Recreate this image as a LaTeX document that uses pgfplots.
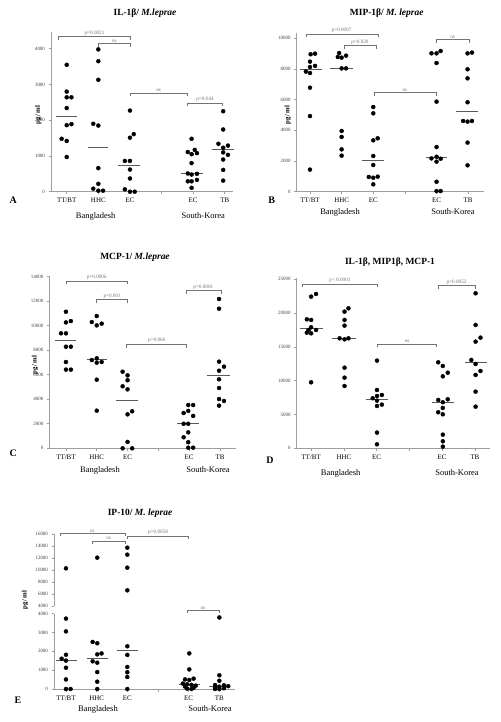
\documentclass[border=0pt]{standalone}
\usepackage{pgfplots}
\pgfplotsset{compat=1.18}
\usepackage{fontspec}
\setmainfont{Liberation Serif}
\definecolor{axgray}{gray}{0.62}
\definecolor{brgray}{gray}{0.45}
\definecolor{medgray}{gray}{0.35}
\tikzset{plab/.style={font=\fontsize{5.2}{6}\selectfont, text=brgray, above, inner sep=0.8bp}}
\pgfplotsset{
  panel/.style={scale only axis, clip=false,
    axis x line=bottom, axis y line=left,
    axis line style={axgray, line width=0.9pt, -},
    xtick={1,2,3,4,5,6}, xticklabels={TT/BT,HHC,EC,,EC,TB},
    x tick label style={font=\fontsize{7}{8}\selectfont, yshift=-0.5bp},
    y tick label style={font=\fontsize{5}{6}\selectfont, text=black!75},
    major tick length=2.5bp,
    xtick style={axgray, line width=0.6pt},
    ytick style={axgray, line width=0.6pt},
    tick align=outside,
    scaled y ticks=false,
    /pgf/number format/1000 sep={},
    /pgf/number format/assume math mode=true,
  },
  dots/.style={only marks, mark=*, mark size=2bp, black},
  med/.style={medgray, line width=0.7pt},
  br/.style={brgray, line width=0.6pt},
}
\begin{document}
\begin{tikzpicture}
\useasboundingbox (0,0) rectangle (501bp,-722bp);
% ---------------- Panel A
\begin{axis}[panel, at={(51bp,-191.7bp)}, anchor=south west, width=182bp, height=159.7bp,
  xmin=0.503, xmax=6.26, ymin=0, ymax=4467, ytick={0,1000,2000,3000,4000}]
\addplot[dots] coordinates {(1,3550) (1,2800) (1,2640) (1.15,2640) (1,2340) (1,1860) (1.15,1890) (0.84,1480) (1,1420) (1,970)};
\addplot[dots] coordinates {(2,3980) (2,3650) (2,3130) (1.84,1900) (2,1850) (2,660) (2,220) (1.84,85) (2,28) (2.15,28)};
\addplot[dots] coordinates {(3,2270) (3,1510) (3.12,1610) (2.84,860) (3,860) (3,620) (3,370) (2.84,65) (3,0) (3.15,0)};
\addplot[dots] coordinates {(4.83,1110) (4.95,1050) (5.05,1170) (5.12,1080) (4.95,1480) (4.95,800) (4.83,510) (4.95,480) (5.12,500) (4.83,290) (4.95,290) (5.12,330) (4.95,110)};
\addplot[dots] coordinates {(5.95,2250) (5.95,1740) (5.8,1340) (6.1,1290) (5.95,1230) (5.95,1100) (6.1,1030) (5.95,900) (5.95,610) (5.95,310)};
\addplot[med] coordinates {(0.67,2121) (1.33,2121)};
\addplot[med] coordinates {(1.68,1252) (2.32,1252)};
\addplot[med] coordinates {(2.63,748) (3.32,748)};
\addplot[med] coordinates {(4.61,505) (5.32,505)};
\addplot[med] coordinates {(5.58,1178) (6.29,1178)};
\addplot[br] coordinates {(0.74,4248) (0.74,4346) (3.02,4346) (3.02,4248)};
\addplot[br] coordinates {(2,4042) (2,4140) (3.02,4140) (3.02,4042)};
\addplot[br] coordinates {(3.02,2668) (3.02,2766) (4.8,2766) (4.8,2668)};
\addplot[br] coordinates {(4.82,2388) (4.82,2486) (5.92,2486) (5.92,2388)};
\node[plab] at (axis cs:1.88,4346) {p=0.0021};
\node[plab] at (axis cs:2.51,4140) {ns};
\node[plab] at (axis cs:3.91,2766) {ns};
\node[plab] at (axis cs:5.37,2486) {p=0.044};
\end{axis}
% ---------------- Panel B
\begin{axis}[panel, at={(296.7bp,-191.7bp)}, anchor=south west, width=187.3bp, height=158.4bp,
  xmin=0.58, xmax=6.5, ymin=0, ymax=10326, ytick={0,2000,4000,6000,8000,10000}]
\addplot[dots] coordinates {(1.02,8960) (1.16,9000) (1,8480) (1,8130) (1.16,8200) (0.87,7830) (1,7740) (1,6780) (1,4930) (1,1440)};
\addplot[dots] coordinates {(1.92,9040) (1.88,8780) (2,8740) (2.14,8870) (2,8040) (2.14,8040) (2,3960) (2,3570) (2,2760) (2,2350)};
\addplot[dots] coordinates {(3,5520) (3,5110) (3,3350) (3.14,3480) (3,2330) (3,1740) (2.86,960) (3,910) (3.14,980) (3,480)};
\addplot[dots] coordinates {(4.84,9020) (5,9020) (5.13,9170) (5,8390) (5,5870) (5,2910) (4.84,2170) (5,2280) (5.13,2150) (5,1960) (5,650) (5,40) (5.13,40)};
\addplot[dots] coordinates {(5.98,9020) (6.12,9070) (5.98,7980) (5.98,7390) (5.98,5830) (5.84,4610) (5.98,4570) (6.12,4610) (5.98,3200) (5.98,1720)};
\addplot[med] coordinates {(0.68,8000) (1.37,8000)};
\addplot[med] coordinates {(1.63,8043) (2.37,8043)};
\addplot[med] coordinates {(2.63,2043) (3.35,2043)};
\addplot[med] coordinates {(4.66,2261) (5.34,2261)};
\addplot[med] coordinates {(5.63,5239) (6.32,5239)};
\addplot[br] coordinates {(0.87,10055) (0.87,10283) (3.16,10283) (3.16,10055)};
\addplot[br] coordinates {(2.07,9294) (2.07,9522) (3.08,9522) (3.08,9294)};
\addplot[br] coordinates {(3.03,6229) (3.03,6457) (5,6457) (5,6229)};
\addplot[br] coordinates {(5,9685) (5,9913) (6.02,9913) (6.02,9685)};
\node[plab] at (axis cs:2.0,10283) {p=0.0007};
\node[plab] at (axis cs:2.58,9522) {p=0.020};
\node[plab] at (axis cs:4.0,6457) {ns};
\node[plab] at (axis cs:5.51,9913) {ns};
\end{axis}
% ---------------- Panel C
\begin{axis}[panel, at={(49.3bp,-448.3bp)}, anchor=south west, width=186.7bp, height=172.8bp,
  xmin=0.46, xmax=6.52, ymin=0, ymax=14098, ytick={0,2000,4000,6000,8000,10000,12000,14000}]
\addplot[dots] coordinates {(1,11140) (1,10270) (1.16,10380) (0.84,9380) (1,9380) (1,8290) (1.16,8290) (1,7040) (1,6420) (1.16,6420)};
\addplot[dots] coordinates {(2,10790) (1.84,10300) (2,10030) (2.16,10170) (2,7340) (1.84,7200) (2,6990) (2.16,7040) (2,5600) (2,3070)};
\addplot[dots] coordinates {(2.84,6250) (3,5950) (3,5550) (2.84,5060) (3,4810) (3,2770) (3.15,3020) (3,520) (2.84,0) (3.15,0)};
\addplot[dots] coordinates {(4.97,3530) (5.13,3530) (4.82,2880) (4.97,3050) (5.13,2640) (4.82,2000) (4.97,2000) (4.97,1300) (4.82,900) (4.97,500) (4.97,50) (5.13,50)};
\addplot[dots] coordinates {(5.97,12180) (5.97,11390) (5.97,7070) (6.13,6660) (5.97,6330) (5.97,5630) (5.97,4920) (5.97,4020) (6.13,3860) (5.97,3480)};
\addplot[med] coordinates {(0.65,8806) (1.34,8806)};
\addplot[med] coordinates {(1.67,7257) (2.34,7257)};
\addplot[med] coordinates {(2.63,3941) (3.33,3941)};
\addplot[med] coordinates {(4.62,2000) (5.32,2000)};
\addplot[med] coordinates {(5.59,5953) (6.31,5953)};
\addplot[br] coordinates {(1,13365) (1,13650) (3,13650) (3,13365)};
\addplot[br] coordinates {(2,11865) (2,12150) (3,12150) (3,11865)};
\addplot[br] coordinates {(2.97,8222) (2.97,8507) (4.92,8507) (4.92,8222)};
\addplot[br] coordinates {(4.9,12571) (4.9,12856) (6.03,12856) (6.03,12571)};
\node[plab] at (axis cs:2,13650) {p=0.0006};
\node[plab] at (axis cs:2.5,12150) {p=0.001};
\node[plab] at (axis cs:3.95,8507) {p=0.066};
\node[plab] at (axis cs:5.46,12856) {p=0.0001};
\end{axis}
% ---------------- Panel D
\begin{axis}[panel, at={(296.7bp,-448.3bp)}, anchor=south west, width=193.3bp, height=170.6bp,
  xmin=0.56, xmax=6.46, ymin=0, ymax=25237, ytick={0,5000,10000,15000,20000,25000}]
\addplot[dots] coordinates {(1,22440) (1.15,22830) (0.87,19080) (1,18990) (1,17900) (0.92,17500) (1.15,17500) (0.87,17110) (1,17010) (1,9760)};
\addplot[dots] coordinates {(2.14,20710) (2.02,20220) (2.02,18990) (2.02,18150) (1.87,16270) (2.02,16120) (2.14,16270) (2.02,11930) (2.02,10450) (2.02,9220)};
\addplot[dots] coordinates {(3.01,12970) (3.01,8630) (2.88,7400) (3.01,7740) (3.16,7890) (3.01,7050) (3.01,6260) (3.16,6460) (3.01,2320) (3.01,590)};
\addplot[dots] coordinates {(4.88,12720) (5.02,12180) (5.17,11190) (5.02,10650) (4.88,7150) (5.02,6810) (5.17,7250) (5.02,5970) (4.88,5330) (5.02,5030) (5.02,2020) (5.02,1040) (5.02,250)};
\addplot[dots] coordinates {(6.02,22930) (6.02,18250) (6.17,16370) (6.02,15780) (5.89,13070) (6.02,12480) (6.17,11440) (6.02,10850) (6.02,8380) (6.02,6160)};
\addplot[med] coordinates {(0.66,17752) (1.35,17752)};
\addplot[med] coordinates {(1.65,16272) (2.37,16272)};
\addplot[med] coordinates {(2.66,7298) (3.35,7298)};
\addplot[med] coordinates {(4.69,6805) (5.36,6805)};
\addplot[med] coordinates {(5.71,12722) (6.38,12722)};
\addplot[br] coordinates {(0.73,23792) (0.73,24310) (3.03,24310) (3.03,23792)};
\addplot[br] coordinates {(3.03,14916) (3.03,15434) (4.83,15434) (4.83,14916)};
\addplot[br] coordinates {(4.88,23545) (4.88,24063) (6.0,24063) (6.0,23545)};
\node[plab] at (axis cs:1.88,24310) {p< 0.0001};
\node[plab] at (axis cs:3.93,15434) {ns};
\node[plab] at (axis cs:5.44,24063) {p=0.0052};
\end{axis}
% ---------------- Panel E lower
\begin{axis}[panel, at={(54bp,-689bp)}, anchor=south west, width=181bp, height=75.3bp,
  xmin=0.61, xmax=6.51, ymin=0, ymax=4000, ytick={0,1000,2000,3000,4000}]
\addplot[dots] coordinates {(1,3740) (1,3060) (1,1820) (0.86,1610) (1,1510) (1,1130) (1,510) (1,0) (1.15,0)};
\addplot[dots] coordinates {(1.87,2500) (2.02,2430) (2.02,1840) (2.16,1890) (1.87,1470) (2.02,1400) (2.02,900) (2.02,390) (2.02,0)};
\addplot[dots] coordinates {(3,2270) (3,1810) (3,1170) (3,890) (3,640) (3,0)};
\addplot[dots] coordinates {(5.02,1890) (5.02,1040) (4.88,510) (5.02,480) (5.16,550) (4.81,290) (4.95,250) (5.09,220) (5.23,180) (4.88,130) (5.16,60) (4.95,20) (5.09,0)};
\addplot[dots] coordinates {(6,3800) (6,730) (6,440) (5.86,210) (6.15,200) (6,124) (5.86,60) (6.15,40) (6.29,150) (6,0) (5.86,0)};
\addplot[med] coordinates {(0.67,1540) (1.35,1540)};
\addplot[med] coordinates {(1.67,1646) (2.38,1646)};
\addplot[med] coordinates {(2.65,2053) (3.36,2053)};
\addplot[med] coordinates {(4.7,248) (5.37,248)};
\addplot[med] coordinates {(5.67,124) (6.33,124)};
\addplot[br] coordinates {(4.95,4020) (4.95,4170) (6,4170) (6,4020)};
\node[plab] at (axis cs:5.47,4170) {ns};
\end{axis}
% ---------------- Panel E upper
\begin{axis}[panel, at={(54bp,-606bp)}, anchor=south west, width=181bp, height=72bp,
  axis x line=none, xtick=\empty,
  xmin=0.61, xmax=6.51, ymin=4000, ymax=16000, ytick={4000,6000,8000,10000,12000,14000,16000}]
\addplot[dots] coordinates {(1,10280) (2.02,12060) (3,13720) (3,12560) (3,10390) (3,6610)};
\addplot[br] coordinates {(0.81,15660) (0.81,16110) (2.92,16110) (2.92,15660)};
\addplot[br] coordinates {(1.86,14380) (1.86,14830) (2.92,14830) (2.92,14380)};
\addplot[br] coordinates {(3.0,15220) (3.0,15670) (5.0,15670) (5.0,15220)};
\node[plab] at (axis cs:1.86,16110) {ns};
\node[plab] at (axis cs:2.39,14830) {ns};
\node[plab] at (axis cs:4.0,15670) {p=0.0058};
\end{axis}
% ---------------- Text
\begin{scope}[every node/.style={font=\fontsize{9.5}{11}\selectfont\bfseries}]
\node at (145bp,-13.3bp) {IL-1β/ \textit{M.leprae}};
\node at (386.7bp,-13.3bp) {MIP-1β/ \textit{M. leprae}};
\node at (135bp,-257.3bp) {MCP-1/ \textit{M.leprae}};
\node at (390bp,-261.7bp) {IL-1β, MIP1β, MCP-1};
\node at (140bp,-513.3bp) {IP-10/ \textit{M. leprae}};
\end{scope}
\begin{scope}[every node/.style={font=\fontsize{6.8}{8}\selectfont\bfseries, rotate=90}]
\node at (38.3bp,-115bp) {pg/ ml};
\node at (287.7bp,-115bp) {pg/ ml};
\node at (35bp,-365bp) {pg/ ml};
\node at (25bp,-600bp) {pg/ ml};
\end{scope}
\begin{scope}[every node/.style={font=\fontsize{10}{12}\selectfont\bfseries}]
\node at (13.3bp,-200bp) {A};
\node at (271.7bp,-200bp) {B};
\node at (13.3bp,-453.3bp) {C};
\node at (270bp,-460bp) {D};
\node at (18bp,-700bp) {E};
\end{scope}
\begin{scope}[every node/.style={font=\fontsize{8.5}{10}\selectfont}]
\node at (95.7bp,-216bp) {Bangladesh};
\node at (203.3bp,-216bp) {South-Korea};
\node at (340bp,-212bp) {Bangladesh};
\node at (453bp,-212bp) {South-Korea};
\node at (100bp,-470bp) {Bangladesh};
\node at (208bp,-470bp) {South-Korea};
\node at (340.7bp,-473bp) {Bangladesh};
\node at (457bp,-473bp) {South-Korea};
\node at (98bp,-709bp) {Bangladesh};
\node at (210bp,-709bp) {South-Korea};
\end{scope}
\end{tikzpicture}
\end{document}
